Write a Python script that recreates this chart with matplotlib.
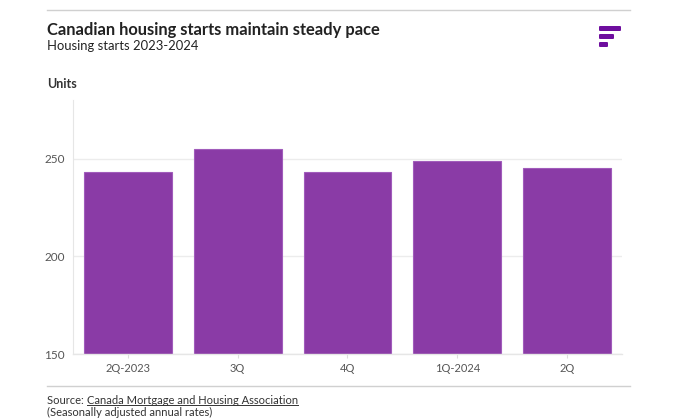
import matplotlib.pyplot as plt
from matplotlib.patches import FancyBboxPatch
from matplotlib.lines import Line2D

# data
quarters = ['2Q-2023', '3Q', '4Q', '1Q-2024', '2Q']
starts = [243, 255, 243, 249, 245]  # thousands of units, SAAR

plt.rcParams['font.family'] = ['Lato', 'DejaVu Sans']

fig = plt.figure(figsize=(6.9, 4.18), dpi=100)
ax = fig.add_axes([0.1058, 0.1531, 0.7956, 0.6077])

ax.bar(range(len(quarters)), starts, width=0.8, color='#8a3ba6',
       edgecolor='#a15cbb', linewidth=0.8, zorder=3)

ax.set_xlim(-0.5, 4.5)
ax.set_ylim(150, 280)
ax.set_yticks([150, 200, 250])
ax.set_xticks(range(len(quarters)))
ax.set_xticklabels(quarters)
ax.grid(axis='y', color='#ececec', linewidth=1, zorder=0)
for s in ['top', 'right', 'bottom']:
    ax.spines[s].set_visible(False)
ax.spines['left'].set_color('#e6e6e6')
ax.axhline(150, color='#e6e6e6', linewidth=1, zorder=4, clip_on=False)
ax.tick_params(axis='y', length=0, pad=6, labelsize=8.5, labelcolor='#555555')
ax.tick_params(axis='x', length=3, color='#dddddd', labelsize=8, labelcolor='#555555')

# header
fig.add_artist(Line2D([47/690, 630/690], [1-10/418, 1-10/418], color='#d0d0d0', lw=1))
fig.text(47/690, 1-30/418, 'Canadian housing starts maintain steady pace',
         fontsize=11.9, fontweight='bold', color='#222222', va='center')
fig.text(47/690, 1-46/418, 'Housing starts 2023-2024', fontsize=9.4,
         color='#222222', va='center')
fig.text(47/690, 1-84/418, 'Units', fontsize=9, fontweight='bold',
         color='#333333', va='center')

# logo
for y0, w in [(26, 22), (34, 15), (42, 9)]:
    fig.add_artist(FancyBboxPatch((599/690, 1-(y0+5)/418), w/690, 5/418,
                                  boxstyle='round,pad=0,rounding_size=0.002',
                                  transform=fig.transFigure,
                                  facecolor='#6e0e9e', edgecolor='none'))

# footer
fig.add_artist(Line2D([47/690, 630/690], [1-386/418, 1-386/418], color='#d0d0d0', lw=1))
t1 = fig.text(47/690, 1-400/418, 'Source: ', fontsize=8, color='#333333', va='center')
fig.canvas.draw()
r = fig.canvas.get_renderer()
bb = t1.get_window_extent(r)
t2 = fig.text(bb.x1/690, 1-400/418, 'Canada Mortgage and Housing Association',
              fontsize=8, color='#333333', va='center')
bb2 = t2.get_window_extent(r)
fig.add_artist(Line2D([bb2.x0/690, bb2.x1/690], [(bb2.y0+0.5)/418, (bb2.y0+0.5)/418],
                      color='#333333', lw=0.7))
fig.text(47/690, 1-412.5/418, '(Seasonally adjusted annual rates)', fontsize=8,
         color='#333333', va='center')

fig.savefig('out.png', dpi=100)
